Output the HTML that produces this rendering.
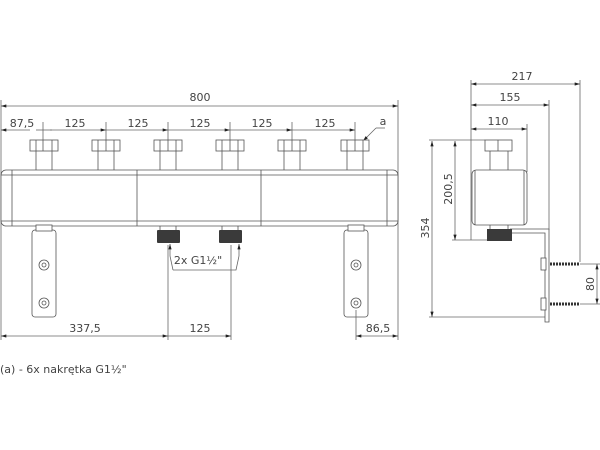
<!DOCTYPE html>
<html><head><meta charset="utf-8"><style>
html,body{margin:0;padding:0;background:#fff;width:600px;height:450px;overflow:hidden}
text{font-family:"DejaVu Sans","Liberation Sans",sans-serif;fill:#444;font-size:11px}
</style></head><body>
<svg width="600" height="450" viewBox="0 0 600 450" xmlns="http://www.w3.org/2000/svg">
<defs>
<marker id="a" viewBox="0 0 10 6" refX="10" refY="3" markerWidth="8" markerHeight="4" orient="auto-start-reverse"><path d="M0,0L10,3L0,6z" fill="#222"/></marker>
</defs>
<g stroke="#666" stroke-width="0.8" fill="none">
<line x1="1" y1="106" x2="398" y2="106" marker-start="url(#a)" marker-end="url(#a)"/>
<line x1="1" y1="130" x2="30" y2="130" marker-start="url(#a)"/>
<line x1="36" y1="130" x2="52" y2="130"/>
<line x1="43" y1="122" x2="43" y2="142"/>
<line x1="106" y1="122" x2="106" y2="142"/>
<line x1="168" y1="122" x2="168" y2="142"/>
<line x1="230" y1="122" x2="230" y2="142"/>
<line x1="292" y1="122" x2="292" y2="142"/>
<line x1="355" y1="122" x2="355" y2="142"/>
<line x1="50" y1="130" x2="106" y2="130" marker-end="url(#a)"/>
<line x1="106" y1="130" x2="168" y2="130" marker-end="url(#a)"/>
<line x1="168" y1="130" x2="230" y2="130" marker-end="url(#a)"/>
<line x1="230" y1="130" x2="292" y2="130" marker-end="url(#a)"/>
<line x1="292" y1="130" x2="355" y2="130" marker-end="url(#a)"/>
<line x1="398" y1="100" x2="398" y2="340"/>
<line x1="1" y1="100" x2="1" y2="340"/>
<line x1="385" y1="128" x2="376" y2="128"/><line x1="376" y1="128" x2="363" y2="141" marker-end="url(#a)"/>
</g>
<g stroke="#555" stroke-width="0.8" fill="#fff">
<rect x="30" y="140" width="28" height="11"/><line x1="36" y1="140" x2="36" y2="151"/><line x1="43" y1="140" x2="43" y2="151"/><line x1="52" y1="140" x2="52" y2="151"/>
<line x1="36" y1="151" x2="36" y2="170"/><line x1="52" y1="151" x2="52" y2="170"/>
<rect x="92" y="140" width="28" height="11"/><line x1="98" y1="140" x2="98" y2="151"/><line x1="106" y1="140" x2="106" y2="151"/><line x1="114" y1="140" x2="114" y2="151"/>
<line x1="98" y1="151" x2="98" y2="170"/><line x1="114" y1="151" x2="114" y2="170"/>
<rect x="154" y="140" width="28" height="11"/><line x1="160" y1="140" x2="160" y2="151"/><line x1="168" y1="140" x2="168" y2="151"/><line x1="176" y1="140" x2="176" y2="151"/>
<line x1="160" y1="151" x2="160" y2="170"/><line x1="176" y1="151" x2="176" y2="170"/>
<rect x="216" y="140" width="28" height="11"/><line x1="222" y1="140" x2="222" y2="151"/><line x1="230" y1="140" x2="230" y2="151"/><line x1="238" y1="140" x2="238" y2="151"/>
<line x1="222" y1="151" x2="222" y2="170"/><line x1="238" y1="151" x2="238" y2="170"/>
<rect x="278" y="140" width="28" height="11"/><line x1="284" y1="140" x2="284" y2="151"/><line x1="292" y1="140" x2="292" y2="151"/><line x1="300" y1="140" x2="300" y2="151"/>
<line x1="284" y1="151" x2="284" y2="170"/><line x1="300" y1="151" x2="300" y2="170"/>
<rect x="341" y="140" width="28" height="11"/><line x1="347" y1="140" x2="347" y2="151"/><line x1="355" y1="140" x2="355" y2="151"/><line x1="363" y1="140" x2="363" y2="151"/>
<line x1="347" y1="151" x2="347" y2="170"/><line x1="363" y1="151" x2="363" y2="170"/>
<rect x="1" y="170" width="397" height="56" rx="5"/>
<line x1="1" y1="175" x2="398" y2="175"/><line x1="1" y1="221" x2="398" y2="221"/>
<line x1="12" y1="170" x2="12" y2="226"/><line x1="387" y1="170" x2="387" y2="226"/>
<line x1="137" y1="170" x2="137" y2="226"/><line x1="261" y1="170" x2="261" y2="226"/>
<rect x="32" y="230" width="24" height="87" rx="3"/>
<rect x="36" y="225" width="16" height="6"/>
<rect x="344" y="230" width="24" height="87" rx="3"/>
<rect x="348" y="225" width="16" height="6"/>
<circle cx="44" cy="265" r="5"/><circle cx="44" cy="265" r="2"/>
<circle cx="44" cy="303" r="5"/><circle cx="44" cy="303" r="2"/>
<circle cx="356" cy="265" r="5"/><circle cx="356" cy="265" r="2"/>
<circle cx="356" cy="303" r="5"/><circle cx="356" cy="303" r="2"/>
<line x1="160" y1="226" x2="160" y2="231"/><line x1="176" y1="226" x2="176" y2="231"/>
<line x1="222" y1="226" x2="222" y2="231"/><line x1="238" y1="226" x2="238" y2="231"/>
</g>
<rect x="157" y="230" width="23" height="13" fill="#3a3a3a" rx="1"/>
<rect x="219" y="230" width="23" height="13" fill="#3a3a3a" rx="1"/>
<g stroke="#666" stroke-width="0.8" fill="none">
<polyline points="173,270 170,256"/><line x1="170" y1="256" x2="170" y2="244" marker-end="url(#a)"/>
<polyline points="173,270 236,270 239,256"/><line x1="239" y1="256" x2="239" y2="244" marker-end="url(#a)"/>
<line x1="168" y1="245" x2="168" y2="340"/><line x1="231" y1="245" x2="231" y2="340"/>
<line x1="356" y1="310" x2="356" y2="340"/>
<line x1="1" y1="336" x2="168" y2="336" marker-start="url(#a)" marker-end="url(#a)"/>
<line x1="168" y1="336" x2="231" y2="336" marker-end="url(#a)"/>
<line x1="356" y1="336" x2="398" y2="336" marker-start="url(#a)" marker-end="url(#a)"/>
</g>
<text x="200" y="101" text-anchor="middle" font-size="12">800</text>
<text x="22" y="127" text-anchor="middle">87,5</text>
<text x="75" y="127" text-anchor="middle">125</text>
<text x="138" y="127" text-anchor="middle">125</text>
<text x="200" y="127" text-anchor="middle">125</text>
<text x="262" y="127" text-anchor="middle">125</text>
<text x="325" y="127" text-anchor="middle">125</text>
<text x="383" y="125" text-anchor="middle">a</text>
<text x="198" y="264" text-anchor="middle">2x G1½"</text>
<text x="85" y="332" text-anchor="middle">337,5</text>
<text x="200" y="332" text-anchor="middle">125</text>
<text x="378" y="332" text-anchor="middle">86,5</text>
<text x="0" y="373" font-size="10.5">(a) - 6x nakrętka G1½"</text>
<g stroke="#666" stroke-width="0.8" fill="none">
<line x1="471" y1="80" x2="471" y2="240"/>
<line x1="580" y1="80" x2="580" y2="262"/>
<line x1="549" y1="100" x2="549" y2="230"/>
<line x1="527" y1="124" x2="527" y2="172"/>
<line x1="471" y1="84" x2="580" y2="84" marker-start="url(#a)" marker-end="url(#a)"/>
<line x1="471" y1="105" x2="549" y2="105" marker-start="url(#a)" marker-end="url(#a)"/>
<line x1="471" y1="129" x2="527" y2="129" marker-start="url(#a)" marker-end="url(#a)"/>
<line x1="429" y1="140" x2="485" y2="140"/>
<line x1="429" y1="317" x2="548" y2="317"/>
<line x1="452" y1="240" x2="490" y2="240"/>
<line x1="432" y1="141" x2="432" y2="317" marker-start="url(#a)" marker-end="url(#a)"/>
<line x1="455" y1="141" x2="455" y2="240" marker-start="url(#a)" marker-end="url(#a)"/>
<line x1="580" y1="264" x2="600" y2="264"/><line x1="580" y1="304" x2="600" y2="304"/>
<line x1="597" y1="264" x2="597" y2="304" marker-start="url(#a)" marker-end="url(#a)"/>
</g>
<g stroke="#555" stroke-width="0.8" fill="#fff">
<rect x="485" y="140" width="27" height="11"/><line x1="498" y1="140" x2="498" y2="151"/>
<line x1="490" y1="151" x2="490" y2="170"/><line x1="508" y1="151" x2="508" y2="170"/>
<rect x="472" y="170" width="55" height="55" rx="4"/>
<line x1="475" y1="170" x2="475" y2="225"/><line x1="524" y1="170" x2="524" y2="225"/>
<line x1="490" y1="225" x2="490" y2="229"/><line x1="508" y1="225" x2="508" y2="229"/>
<polyline points="510,229 549,229 549,322 545,322 545,233 510,233"/>
<rect x="541" y="258" width="5" height="12"/><rect x="541" y="298" width="5" height="12"/>
</g>
<rect x="487" y="229" width="25" height="12" fill="#3a3a3a"/>
<g stroke="#333" stroke-width="3">
<line x1="550" y1="264" x2="580" y2="264" stroke-dasharray="2 1"/>
<line x1="550" y1="304" x2="580" y2="304" stroke-dasharray="2 1"/>
</g>
<text x="522" y="80" text-anchor="middle">217</text>
<text x="510" y="101" text-anchor="middle">155</text>
<text x="498" y="125" text-anchor="middle">110</text>
<text transform="translate(429,228) rotate(-90)" text-anchor="middle">354</text>
<text transform="translate(452,189) rotate(-90)" text-anchor="middle">200,5</text>
<text transform="translate(594,284) rotate(-90)" text-anchor="middle">80</text>
</svg>
</body></html>
